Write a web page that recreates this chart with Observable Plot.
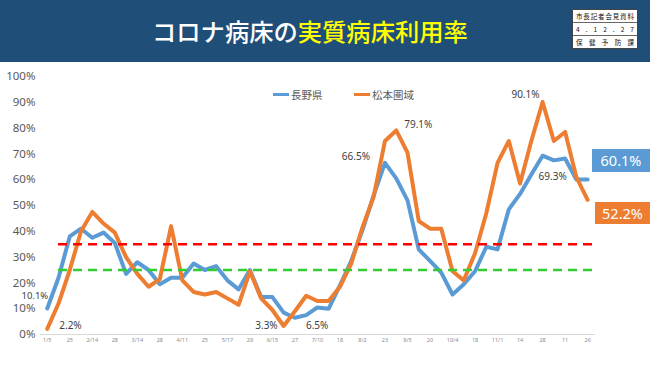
<!DOCTYPE html>
<html><head><meta charset="utf-8">
<script src="https://cdn.jsdelivr.net/npm/d3@7"></script>
<script src="https://cdn.jsdelivr.net/npm/@observablehq/plot@0.6"></script>
<style>
html,body{margin:0;padding:0;background:#fff;}
#wrap{position:relative;width:650px;height:365px;overflow:hidden;font-family:"Noto Sans","Noto Sans CJK JP",sans-serif;}
#header{position:absolute;left:0;top:0;width:650px;height:62px;background:#1f4e79;}
#title{position:absolute;left:152px;top:14px;font-family:"Noto Sans CJK JP",sans-serif;font-size:24.3px;line-height:34px;color:#fff;font-weight:500;white-space:nowrap;}
#title .y{color:#ffff00;}
#info{position:absolute;left:572px;top:9px;width:64px;height:38px;background:#fff;border:1px solid #444;font-family:"Noto Sans CJK JP",sans-serif;font-size:6.5px;color:#111;}
#info div{height:12px;line-height:12px;border-bottom:1px solid #666;display:flex;justify-content:space-between;padding:0 3px;}
#info div:last-child{border-bottom:none;height:13px;}
#chart{position:absolute;left:0;top:62px;}
.leg{position:absolute;top:87px;font-family:"Noto Sans CJK JP",sans-serif;font-size:10.5px;color:#595959;display:flex;align-items:center;}
.leg i{display:inline-block;width:16px;height:3px;margin-right:2px;}
.box{position:absolute;color:#fff;font-family:"Noto Sans",sans-serif;font-size:14.5px;text-align:center;}
</style>
</head><body>
<div id="wrap">
  <div id="header">
    <div id="title">コロナ病床の<span class="y">実質病床利用率</span></div>
    <div id="info">
      <div><span>市</span><span>長</span><span>記</span><span>者</span><span>会</span><span>見</span><span>資</span><span>料</span></div>
      <div><span>4</span><span>.</span><span>1</span><span>2</span><span>.</span><span>2</span><span>7</span></div>
      <div><span>保</span><span>健</span><span>予</span><span>防</span><span>課</span></div>
    </div>
  </div>
  <div id="chart"></div>
  <div class="leg" style="left:273px"><i style="background:#5B9BD5"></i><span id="leg0"></span></div>
  <div class="leg" style="left:354px"><i style="background:#ED7D31"></i><span id="leg1"></span></div>
  <div class="box" id="box0" style="left:592px;top:149px;width:58px;height:23px;line-height:23px;background:#5B9BD5"></div>
  <div class="box" id="box1" style="left:595px;top:202px;width:55px;height:22px;line-height:22px;background:#ED7D31"></div>
</div>
<script>
const seriesNames = ["長野県", "松本圏域"];
const xLabels = ["1/5","25","2/14","28","3/14","28","4/11","25","5/17","29","6/15","27","7/10","18","8/2","23","9/5","20","10/4","18","11/1","14","28","11","26"];
const nagano = [10.1,22,38,41,37.5,39.5,35.5,23.5,28,25,19.5,22,22,27.5,25,26.5,21,17.5,25,14.5,14.5,8.5,6.5,7.5,10.5,10,19,28.5,40.5,54,66.5,60.5,52,33,28.5,24,15.5,19.5,24.5,34,33,48.5,54.5,62,69.3,67.5,68.2,60.1,60.1];
const matsumoto = [2.2,12,25,40,47.5,43,39.5,30,23.5,18.5,21.5,42,21,16.5,15.5,16.5,14,11.5,24.5,14,9.5,3.3,9,15,13,13,18.5,27.5,41.5,53.5,75,79.1,70.5,44,41,41,24.5,21,31.5,47,66.5,75,58.5,75,90.1,75,78.5,61,52.2];
const thresholds = [35, 25];
const yTicks = [0,10,20,30,40,50,60,70,80,90,100];

// annotated points: [series index, point index]
const annotated = [[0,0],[1,0],[1,21],[0,22],[0,30],[1,31],[1,44],[0,44]];
const annStyle = [
  {anchor:"end", dx:1, dy:-12.5},
  {anchor:"start", dx:12, dy:-3},
  {anchor:"end", dx:-6, dy:0},
  {anchor:"start", dx:11, dy:8},
  {anchor:"end", dx:-15, dy:-6},
  {anchor:"start", dx:8, dy:-6},
  {anchor:"end", dx:-3, dy:-7},
  {anchor:"start", dx:-4, dy:21}
];

const series = [nagano, matsumoto];
const colors = ["#5B9BD5", "#ED7D31"];
const rows = series.map(s => s.map((v, i) => ({i, v})));
const fmt = v => v.toFixed(1) + "%";

const annMarks = annotated.map(([s, i], k) => Plot.text([{i, v: series[s][i]}], {
  x: "i", y: "v", text: d => fmt(d.v),
  textAnchor: annStyle[k].anchor, dx: annStyle[k].dx, dy: annStyle[k].dy,
  fontSize: k === 0 ? 9.5 : 10, fill: "#404040"
}));

const chart = Plot.plot({
  width: 650, height: 303,
  marginTop: 14, marginBottom: 31, marginLeft: 40, marginRight: 55,
  x: {domain: [-0.6, 48.7]},
  y: {domain: [0, 100]},
  style: {fontFamily: "'Noto Sans', sans-serif", background: "transparent", overflow: "visible"},
  marks: [
    Plot.ruleY([0], {stroke: "#d9d9d9", strokeWidth: 1}),
    Plot.axisY({ticks: yTicks, tickFormat: d => d + "%", tickSize: 0, tickPadding: 5, fontSize: 11.5, fill: "#595959", label: null}),
    Plot.axisX({ticks: xLabels.map((_, k) => 2 * k), tickFormat: i => xLabels[i / 2], tickSize: 0, tickPadding: 4, fontSize: 5.5, fill: "#8a8a8a", label: null}),
    Plot.line(rows[0], {x: "i", y: "v", stroke: colors[0], strokeWidth: 4}),
    Plot.line(rows[1], {x: "i", y: "v", stroke: colors[1], strokeWidth: 4}),
    Plot.ruleY([{v: thresholds[0], a: 1, b: 48.7}], {y: "v", x1: "a", x2: "b", stroke: "#ff0000", strokeWidth: 2.5, strokeDasharray: "9,6"}),
    Plot.ruleY([{v: thresholds[1], a: 1, b: 48.7}], {y: "v", x1: "a", x2: "b", stroke: "#33cc33", strokeWidth: 2.5, strokeDasharray: "9,6"}),
    ...annMarks
  ]
});
document.getElementById("chart").appendChild(chart);
document.getElementById("leg0").textContent = seriesNames[0];
document.getElementById("leg1").textContent = seriesNames[1];
document.getElementById("box0").textContent = fmt(nagano[nagano.length - 1]);
document.getElementById("box1").textContent = fmt(matsumoto[matsumoto.length - 1]);
</script>
</body></html>
